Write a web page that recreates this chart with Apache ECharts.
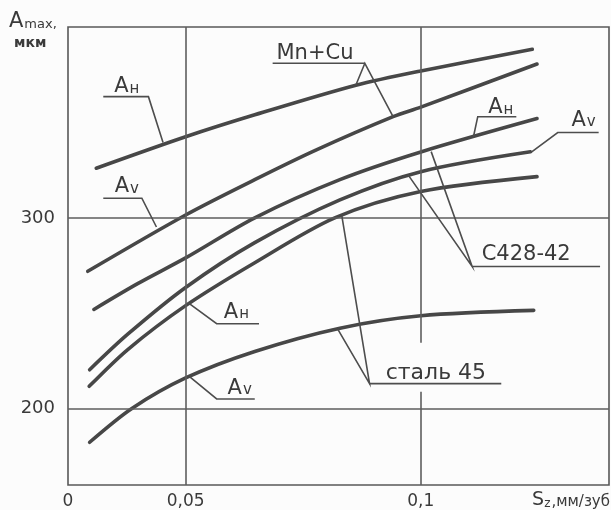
<!DOCTYPE html>
<html><head><meta charset="utf-8">
<script src="https://cdn.jsdelivr.net/npm/echarts@6/dist/echarts.min.js"></script>
<style>html,body{margin:0;padding:0;background:#fcfcfc}#c{width:611px;height:510px}</style>
</head><body><div id="c"></div>
<script>
// ---- axis ticks ----
const xTicks = [0.025, 0.05, 0.1];
const xTickLabels = ['0', '0,05', '0,1'];
const yTicks = [200, 300];
const yTickLabels = ['200', '300'];

// ---- series: [Sz, Amax] ----
const mnCuH  = [[0.031,326],[0.05,342.5],[0.0647,354],[0.0862,369.5],[0.1,377],[0.1237,388.3]];
const mnCuV  = [[0.0292,272],[0.05,301.5],[0.0647,320],[0.0778,335.6],[0.0941,353],[0.1,358],[0.1247,380.6]];
const sch28H = [[0.0305,252],[0.0398,265.5],[0.05,279],[0.0647,300],[0.0828,320],[0.1,334.5],[0.1247,352]];
const sch28V = [[0.0296,220.4],[0.0377,239],[0.05,263.5],[0.0647,287],[0.0828,309.4],[0.1,324.2],[0.1233,334.6]];
const st45H  = [[0.0295,211.7],[0.0377,231],[0.05,254],[0.0647,276.5],[0.0817,300],[0.1,313.8],[0.1247,321.6]];
const st45V  = [[0.0296,182.4],[0.0385,200],[0.05,216.1],[0.0647,230],[0.0828,242.2],[0.1,248.7],[0.124,251.5]];

// ---- annotations (data coordinates) ----
const annoTexts = [
  {p:[0.0375,368.6], a:'A', s:'н'},
  {p:[0.0375,316.3], a:'A', s:'v'},
  {p:[0.0775,385.9], t:'Mn+Cu'},
  {p:[0.117,357.6],  a:'A', s:'н'},
  {p:[0.1346,351.1], a:'A', s:'v'},
  {p:[0.1224,280.7], t:'С428-42'},
  {p:[0.0608,250.6], a:'A', s:'н'},
  {p:[0.0615,210.8], a:'A', s:'v'},
  {p:[0.1032,218.6], t:'сталь 45'}
];
const leaders = [
  [[0.0325,363.5],[0.0421,363.5],[0.0452,339.5]],
  [[0.0325,310.3],[0.0407,310.3],[0.0438,295.2]],
  [[0.0685,381],[0.0881,381]],
  [[0.0862,369.6],[0.0881,381],[0.0941,353.1]],
  [[0.1203,353],[0.1121,353],[0.1112,342.6]],
  [[0.1378,344.7],[0.1291,344.7],[0.1235,334.4]],
  [[0.1381,274.5],[0.1109,274.5]],
  [[0.1022,334.7],[0.1109,274.5],[0.0973,322.5]],
  [[0.0656,244.5],[0.0566,244.5],[0.0505,255.6]],
  [[0.0647,205.1],[0.0566,205.1],[0.0509,216.6]],
  [[0.1171,213.1],[0.0891,213.1]],
  [[0.0832,301.1],[0.0891,213.1],[0.0824,241.4]]
];

const FONT = 'DejaVu Sans';
const INK = '#3a3a3a';
const chart = echarts.init(document.getElementById('c'), null, {renderer:'canvas'});

function curve(name, data) {
  return {
    name, type:'line', data, smooth:0.3, showSymbol:false, symbol:'none', z:3,
    lineStyle:{color:'#474747', width:3.6, cap:'round'}, silent:true
  };
}

const option = {
  backgroundColor:'#fcfcfc',
  animation:false,
  grid:{left:68, right:2, top:27, bottom:25, show:true, borderColor:'#585858', borderWidth:1.6, backgroundColor:'transparent'},
  xAxis:{
    type:'value', min:0.025, max:0.14, interval:0.025,
    axisLine:{show:false}, axisTick:{show:false}, splitLine:{show:false},
    axisLabel:{
      margin:8, color:INK, fontFamily:FONT, fontSize:17,
      showMaxLabel:false,
      formatter: v => { const i = xTicks.findIndex(t => Math.abs(t - v) < 1e-6); return i >= 0 ? xTickLabels[i] : ''; }
    }
  },
  yAxis:{
    type:'value', min:160, max:400, interval:20,
    axisLine:{show:false}, axisTick:{show:false}, splitLine:{show:false},
    axisLabel:{
      margin:13, color:INK, fontFamily:FONT, fontSize:18,
      formatter: v => { const i = yTicks.findIndex(t => Math.abs(t - v) < 1e-6); return i >= 0 ? yTickLabels[i] : ''; }
    }
  },
  series:[
    {
      name:'grid', type:'line', data:[[0.025,160]], showSymbol:false, symbol:'none', z:1, silent:true,
      lineStyle:{width:0},
      markLine:{
        silent:true, symbol:['none','none'], label:{show:false},
        lineStyle:{color:'#5e5e5e', width:1.6, type:'solid'},
        data:[
          {xAxis:0.05},
          {yAxis:200},
          {yAxis:300},
          [{coord:[0.1,400]},{coord:[0.1,234.6]}],
          [{coord:[0.1,208.9]},{coord:[0.1,160]}]
        ]
      }
    },
    curve('Mn+Cu Aн', mnCuH),
    curve('Mn+Cu Av', mnCuV),
    curve('С428-42 Aн', sch28H),
    curve('С428-42 Av', sch28V),
    curve('сталь 45 Aн', st45H),
    curve('сталь 45 Av', st45V)
  ]
};
chart.setOption(option);

const px = p => chart.convertToPixel({gridIndex:0}, p);
const g = [];
leaders.forEach(pts => {
  g.push({type:'polyline', z:10, silent:true, shape:{points:pts.map(px)},
    style:{stroke:'#4d4d4d', lineWidth:1.6, fill:null}});
});
annoTexts.forEach(o => {
  const c = px(o.p);
  if (o.t) {
    const fs = o.t === 'сталь 45' ? 22 : 21;
    g.push({type:'text', z:11, x:c[0], y:c[1], silent:true,
      style:{text:o.t, fill:INK, font:fs + 'px "' + FONT + '"', align:'center', verticalAlign:'middle'}});
  } else {
    g.push({type:'text', z:11, x:c[0], y:c[1], silent:true,
      style:{text:'{a|' + o.a + '}{s|' + o.s + '}', align:'center', verticalAlign:'middle',
        rich:{a:{fill:INK, fontFamily:FONT, fontSize:21, verticalAlign:'bottom'},
              s:{fill:INK, fontFamily:FONT, fontSize:15, verticalAlign:'bottom', padding:[0,0,1,1]}}}});
  }
});
// axis titles
g.push({type:'text', x:9, y:11, silent:true,
  style:{text:'{a|A}{m|max,}', rich:{a:{fill:INK, fontFamily:FONT, fontSize:21, verticalAlign:'bottom'},
    m:{fill:INK, fontFamily:FONT, fontSize:13, verticalAlign:'bottom', padding:[0,0,1,1]}}}});
g.push({type:'text', x:14, y:36, silent:true,
  style:{text:'мкм', fill:INK, font:'bold 14px "' + FONT + '"'}});
g.push({type:'text', x:610, y:491, silent:true,
  style:{text:'{s|S}{z|z}{r|,мм/зуб}', align:'right',
    rich:{s:{fill:INK, fontFamily:FONT, fontSize:19, verticalAlign:'bottom'},
          z:{fill:INK, fontFamily:FONT, fontSize:12, verticalAlign:'bottom', padding:[0,1,0,0]},
          r:{fill:INK, fontFamily:FONT, fontSize:15, verticalAlign:'bottom'}}}});
chart.setOption({graphic:g});
</script></body></html>
